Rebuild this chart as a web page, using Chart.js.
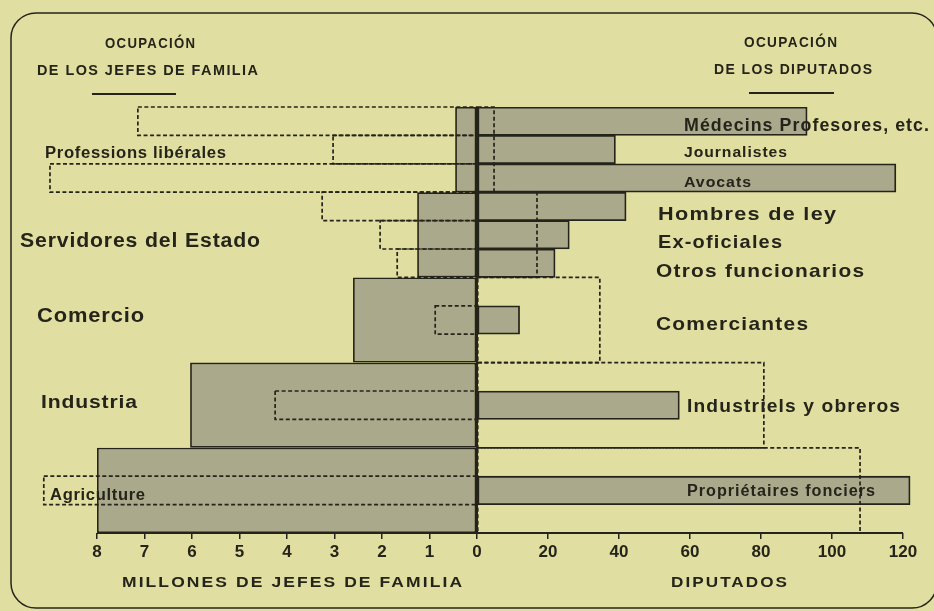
<!DOCTYPE html>
<html>
<head>
<meta charset="utf-8">
<script src="https://cdn.jsdelivr.net/npm/chart.js@4.4.1/dist/chart.umd.min.js"></script>
<style>
  html, body { margin: 0; padding: 0; background: #e0dea0; }
  canvas { display: block; }
</style>
</head>
<body>
<canvas id="chart" width="934" height="611"></canvas>
<script>
// lado izquierdo: millones de jefes de familia por categoría
var categorias = ['Professions libérales', 'Servidores del Estado', 'Comercio', 'Industria', 'Agriculture'];
var jefesMillones = [0.46, 1.26, 2.61, 6.04, 8.0];
// recuadros punteados de la derecha (diputados que corresponderían)
var diputadosProporcionales = [4.8, 16.9, 34.6, 80.8, 107.9];

// lado derecho: ocupación de los diputados
var ocupaciones = ['Médecins Profesores, etc.', 'Journalistes', 'Avocats', 'Hombres de ley', 'Ex-oficiales',
    'Otros funcionarios', 'Comerciantes', 'Industriels y obreros', 'Propriétaires fonciers'];
var grupoOcupacion = [0, 0, 0, 1, 1, 1, 2, 3, 4];
var diputados = [93, 39, 118, 42, 26, 22, 12, 57, 122];
// recuadros punteados de la izquierda (millones de jefes que corresponderían)
var jefesProporcionales = [7.14, 3.03, 8.99, 3.26, 2.04, 1.68, 0.88, 4.25, 9.12];

var ticksMillones = [8, 7, 6, 5, 4, 3, 2, 1, 0];
var ticksDiputados = [20, 40, 60, 80, 100, 120];

// escala: 1 millón = 47.5 px, 1 diputado = 3.55 px -> todo en unidades de diputado
var K = 47.5 / 3.55;

var INK = '#25241a';
var GRIS = '#aaa98c';
var FAM = "'Liberation Sans', Arial, sans-serif";

// 3 filas por categoría
var filas = [];
categorias.forEach(function (c) { for (var k = 0; k < 3; k++) filas.push(c + ' ' + k); });

function filaDe(i) {
    var g = grupoOcupacion[i];
    var n = grupoOcupacion.filter(function (x) { return x === g; }).length;
    var pos = grupoOcupacion.slice(0, i).filter(function (x) { return x === g; }).length;
    return n === 3 ? g * 3 + pos : g * 3 + 1;
}
function vacio() { return filas.map(function () { return null; }); }

var izqCat = vacio(), derCat = vacio(), derOcup = vacio(), izqOcup = vacio();
categorias.forEach(function (c, g) {
    izqCat[g * 3 + 1] = -jefesMillones[g] * K;
    derCat[g * 3 + 1] = diputadosProporcionales[g];
});
ocupaciones.forEach(function (o, i) {
    var f = filaDe(i);
    derOcup[f] = diputados[i];
    izqOcup[f] = -jefesProporcionales[i] * K;
});

var ticksX = ticksMillones.map(function (m) { return -m * K; })
    .concat(ticksDiputados);

// rótulos (posición x, ajuste vertical respecto al centro de la fila, ancho, tamaño)
var rotIzq = [
    {x: 45, dy: 8, w: 181, size: 16},
    {x: 20, dy: 12, w: 240, size: 20},
    {x: 37, dy: 2, w: 107, size: 20},
    {x: 41, dy: 3, w: 96, size: 18},
    {x: 50, dy: 10, w: 95, size: 16}
];
var rotDer = [
    {x: 684, dy: 10, w: 245, size: 18},
    {x: 684, dy: 7.5, w: 103, size: 15},
    {x: 684, dy: 9, w: 67, size: 15},
    {x: 658, dy: 13.6, w: 178, size: 19},
    {x: 658, dy: 13, w: 124, size: 19},
    {x: 656, dy: 14, w: 208, size: 19},
    {x: 656, dy: 10, w: 152, size: 19},
    {x: 687, dy: 7, w: 213, size: 18},
    {x: 687, dy: 6, w: 188, size: 16}
];

// texto ajustado al ancho: algo de espaciado y el resto estirando la letra
function fitText(ctx, text, x, y, w, size, espacio) {
    ctx.font = 'bold ' + size + 'px ' + FAM;
    ctx.letterSpacing = '0px';
    var ls = size * espacio;
    var m = ctx.measureText(text).width + ls * (text.length - 1);
    ctx.save();
    ctx.letterSpacing = ls.toFixed(2) + 'px';
    ctx.translate(x, y);
    ctx.scale(w / m, 1);
    ctx.fillText(text, 0, 0);
    ctx.restore();
}

var punteados = {
    id: 'punteados',
    afterDatasetsDraw: function (chart) {
        var ctx = chart.ctx;
        chart.data.datasets.forEach(function (ds, i) {
            if (!ds.punteado) return;
            chart.getDatasetMeta(i).data.forEach(function (bar, j) {
                if (ds.data[j] == null) return;
                var p = bar.getProps(['x', 'y', 'base', 'height'], true);
                ctx.save();
                ctx.setLineDash([4, 2.5]);
                ctx.lineWidth = 1.7;
                ctx.strokeStyle = INK;
                ctx.strokeRect(Math.min(p.x, p.base), p.y - p.height / 2, Math.abs(p.x - p.base), p.height);
                ctx.restore();
            });
        });
        // línea del cero, continua
        var x0 = chart.scales.x.getPixelForValue(0);
        ctx.save();
        ctx.strokeStyle = INK;
        ctx.lineWidth = 2;
        ctx.beginPath();
        ctx.moveTo(x0, chart.chartArea.top);
        ctx.lineTo(x0, chart.chartArea.bottom);
        ctx.stroke();
        ctx.restore();
    }
};

var decor = {
    id: 'decor',
    beforeDraw: function (chart) {
        var ctx = chart.ctx;
        ctx.save();
        ctx.strokeStyle = INK;
        ctx.lineWidth = 1.5;
        ctx.beginPath();
        ctx.roundRect(11, 13, 926, 595, 25);
        ctx.stroke();
        ctx.restore();
    },
    afterDraw: function (chart) {
        var ctx = chart.ctx, xs = chart.scales.x, ys = chart.scales.y;
        ctx.save();
        ctx.fillStyle = INK;
        ctx.strokeStyle = INK;

        // eje inferior
        ctx.lineWidth = 2;
        ctx.beginPath();
        ctx.moveTo(xs.getPixelForValue(-8 * K), chart.chartArea.bottom);
        ctx.lineTo(xs.getPixelForValue(120), chart.chartArea.bottom);
        ctx.stroke();

        // títulos
        ctx.textBaseline = 'alphabetic';
        fitText(ctx, 'OCUPACIÓN', 105, 48, 90, 15, 0.1);
        fitText(ctx, 'DE LOS JEFES DE FAMILIA', 37, 75, 221, 15, 0.1);
        fitText(ctx, 'OCUPACIÓN', 744, 47, 93, 15, 0.1);
        fitText(ctx, 'DE LOS DIPUTADOS', 714, 74, 158, 15, 0.1);
        ctx.lineWidth = 2;
        ctx.beginPath();
        ctx.moveTo(92, 94); ctx.lineTo(176, 94);
        ctx.moveTo(749, 93); ctx.lineTo(834, 93);
        ctx.stroke();

        // títulos de los ejes
        fitText(ctx, 'MILLONES DE JEFES DE FAMILIA', 122, 587, 340, 14, 0.12);
        fitText(ctx, 'DIPUTADOS', 671, 587, 116, 14, 0.12);

        // rótulos de categorías y ocupaciones
        categorias.forEach(function (c, g) {
            var r = rotIzq[g];
            fitText(ctx, c, r.x, ys.getPixelForValue(g * 3 + 1) + r.dy, r.w, r.size, 0.04);
        });
        ocupaciones.forEach(function (o, i) {
            var r = rotDer[i];
            fitText(ctx, o, r.x, ys.getPixelForValue(filaDe(i)) + r.dy, r.w, r.size, 0.06);
        });
        ctx.restore();
    }
};

var base = {borderColor: INK, borderWidth: 1.8, borderSkipped: false, grouped: false, categoryPercentage: 1};

new Chart(document.getElementById('chart').getContext('2d'), {
    type: 'bar',
    data: {
        labels: filas,
        datasets: [
            Object.assign({label: 'Jefes de familia', data: izqCat, backgroundColor: GRIS, barPercentage: 3}, base),
            Object.assign({label: 'Diputados', data: derOcup, backgroundColor: GRIS, barPercentage: 1}, base),
            Object.assign({}, base, {label: 'Jefes proporcionales', data: izqOcup, backgroundColor: 'rgba(0,0,0,0)',
                borderWidth: 0, barPercentage: 1, punteado: true}),
            Object.assign({}, base, {label: 'Diputados proporcionales', data: derCat, backgroundColor: 'rgba(0,0,0,0)',
                borderWidth: 0, barPercentage: 3, punteado: true})
        ]
    },
    options: {
        indexAxis: 'y',
        responsive: false,
        animation: false,
        layout: {padding: {top: 107, left: 29.7, right: 16.8, bottom: 0}},
        plugins: {legend: {display: false}, tooltip: {enabled: false}},
        scales: {
            y: {display: false, offset: true},
            x: {
                type: 'linear',
                min: -126,
                max: 124,
                afterBuildTicks: function (s) {
                    s.ticks = ticksX.map(function (v) { return {value: v}; });
                },
                afterFit: function (s) { s.height = 78; },
                border: {display: false},
                grid: {
                    color: 'rgba(0,0,0,0)',
                    tickColor: INK,
                    tickLength: 6,
                    lineWidth: 1.5
                },
                ticks: {
                    autoSkip: false,
                    maxRotation: 0,
                    padding: 3,
                    color: INK,
                    font: {family: "'Liberation Sans Narrow', 'Liberation Sans', sans-serif", size: 17, weight: 'bold'},
                    callback: function (v) {
                        return v < 0 ? String(Math.round(-v / K)) : String(v);
                    }
                }
            }
        }
    },
    plugins: [punteados, decor]
});
</script>
</body>
</html>
